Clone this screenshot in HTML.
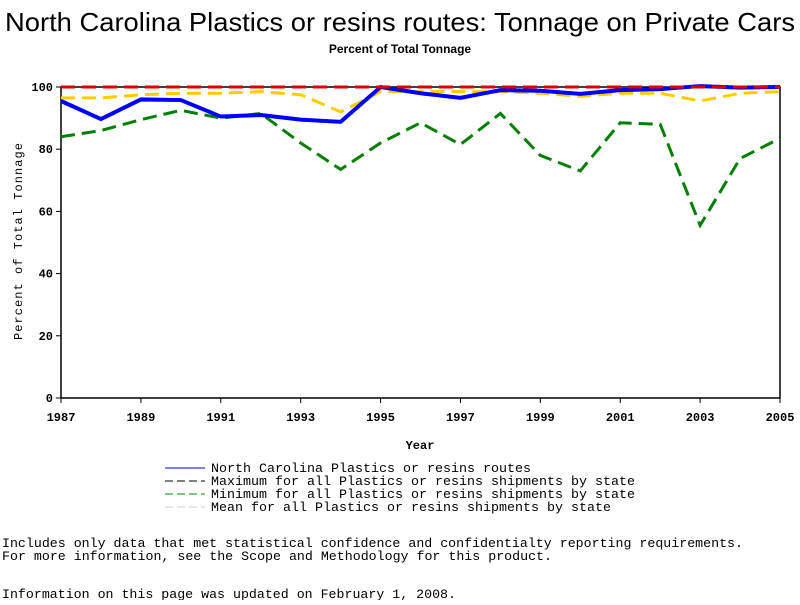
<!DOCTYPE html>
<html><head><meta charset="utf-8"><style>
body{margin:0;background:#fff;width:800px;height:600px;overflow:hidden}
text{font-family:"Liberation Mono",monospace}
</style></head><body>
<svg id="chart" width="800" height="600">
<text x="5" y="31" textLength="790" lengthAdjust="spacingAndGlyphs" style="font-family:'Liberation Sans',sans-serif" font-size="26">North Carolina Plastics or resins routes: Tonnage on Private Cars</text>
<text x="400" y="53" text-anchor="middle" style="font-family:'Liberation Sans',sans-serif" font-size="12" font-weight="bold">Percent of Total Tonnage</text>
<g id="axes"></g>
<g id="series"></g>
<text x="420" y="449" text-anchor="middle" font-size="12" font-weight="bold">Year</text>
<text transform="translate(22,340) rotate(-90)" textLength="197" lengthAdjust="spacing" font-size="12">Percent of Total Tonnage</text>
<g id="legend"></g>
<text x="2" y="547" font-size="13" textLength="741" lengthAdjust="spacingAndGlyphs">Includes only data that met statistical confidence and confidentialty reporting requirements.</text>
<text x="2" y="560" font-size="13" textLength="550" lengthAdjust="spacingAndGlyphs">For more information, see the Scope and Methodology for this product.</text>
<text x="2" y="598" font-size="13" textLength="454" lengthAdjust="spacingAndGlyphs">Information on this page was updated on February 1, 2008.</text>
</svg>
<script>
const years=[1987,1988,1989,1990,1991,1992,1993,1994,1995,1996,1997,1998,1999,2000,2001,2002,2003,2004,2005];
const ncValues=[95.5,89.7,96,95.8,90.5,91,89.5,88.8,100,98,96.5,99,98.8,97.8,99,99.3,100.3,99.8,100];
const maxValues=[100,100,100,100,100,100,100,100,100,100,100,100,100,100,100,100,100,100,100];
const minValues=[84,86,89.5,92.5,90,91.5,82,73.5,82,88.5,81.5,91.5,78,73,88.5,88,55.5,77,83.5];
const meanValues=[96.5,96.5,97.5,98,98,98.5,97.5,92,98.5,98.5,98.5,98.5,98,97,98,98,95.5,98,98.5];
const yTicks=[0,20,40,60,80,100];
const xTickLabels=[1987,1989,1991,1993,1995,1997,1999,2001,2003,2005];
const NS="http://www.w3.org/2000/svg";
const X0=61,X1=780,Y0=398,Y1=87;
const xs=y=>X0+(y-1987)*(X1-X0)/18;
const ys=v=>Y0-v*(Y0-Y1)/100;
function mk(t,a,p){const e=document.createElementNS(NS,t);for(const k in a)e.setAttribute(k,a[k]);p.appendChild(e);return e;}
const ax=document.getElementById('axes');
const frame=mk('rect',{x:X0,y:Y1,width:X1-X0,height:Y0-Y1,fill:'none',stroke:'#000','stroke-width':1.5},ax);


yTicks.forEach(v=>{
 const l=mk('line',{x1:X0-5,x2:X0,y1:ys(v),y2:ys(v),stroke:'#000'},ax);
 
 
 const t=mk('text',{x:X0-8,y:ys(v)+4,'text-anchor':'end','font-size':12,'font-weight':'bold'},ax);
 t.textContent=v;
 
 
});
xTickLabels.forEach(v=>{
 const l=mk('line',{x1:xs(v),x2:xs(v),y1:Y0,y2:Y0+5,stroke:'#000'},ax);
 
 
 const t=mk('text',{x:xs(v),y:Y0+23,'text-anchor':'middle','font-size':12,'font-weight':'bold'},ax);
 t.textContent=v;
 
 
});
const sg=document.getElementById('series');
function line(vals,color,w,dash,name){
 const p=mk('polyline',{points:vals.map((v,i)=>xs(years[i])+','+ys(v)).join(' '),fill:'none',stroke:color,'stroke-width':w,'stroke-dasharray':dash},sg);
 
 
}
line(meanValues,'#ffcc00',3,'14,7','mean-line');
line(minValues,'#008000',3,'14,7','minimum-line');
line(ncValues,'#0000ff',4,'none','north-carolina-line');
line(maxValues,'#dd0000',3,'14,7','maximum-line');
const lg=document.getElementById('legend');
const items=[['North Carolina Plastics or resins routes',320,'#0000ff','none'],['Maximum for all Plastics or resins shipments by state',424,'#000','8,4'],['Minimum for all Plastics or resins shipments by state',424,'#008000','8,4'],['Mean for all Plastics or resins shipments by state',400,'#ccc','8,4']];
items.forEach((it,i)=>{
 const y=468+i*13;
 const l=mk('line',{x1:165,x2:205,y1:y,y2:y,stroke:it[2],'stroke-dasharray':it[3]},lg);
 
 
 const t=mk('text',{x:211,y:y+4,'font-size':13,textLength:it[1],lengthAdjust:'spacingAndGlyphs'},lg);
 t.textContent=it[0];
 
 
});
</script>
</body></html>
